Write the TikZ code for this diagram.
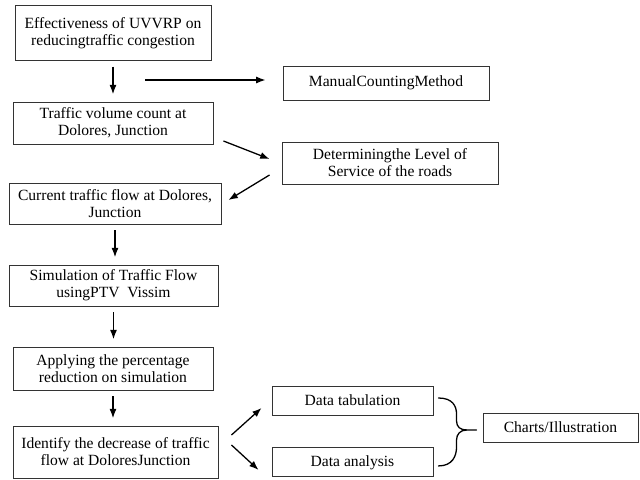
\documentclass[tikz,border=0pt]{standalone}
\usepackage{fontspec}
\setmainfont{Liberation Serif}
\usetikzlibrary{positioning,arrows.meta,calc}

\begin{document}
\begin{tikzpicture}[
    x=0.03cm, y=0.03cm,
    >=Latex,
    font=\fontsize{13.3}{14.6}\selectfont,
    stepbox/.style={
        draw=black!80, line width=0.8pt,
        align=center,
        inner sep=2pt,
        text=black
    },
    smallbox/.style={
        stepbox,
        minimum width=4.83cm, minimum height=0.87cm
    },
    flow/.style={
        ->, line width=1.1pt,
        shorten <=0.17cm, shorten >=0.22cm
    },
    curly/.style={
        line width=1.1pt, line cap=round
    }
]

\useasboundingbox (0,0) rectangle (640,-480);

\node[stepbox, minimum width=5.88cm, minimum height=1.65cm] (goal) at (113,-33)
    {Effectiveness of UVVRP on\\reducingtraffic congestion};
\node[stepbox, minimum width=6.18cm, minimum height=1.02cm] (manual) at (386,-83)
    {ManualCountingMethod};
\node[stepbox, minimum width=6.0cm, minimum height=1.26cm] (vol) at (113,-123)
    {Traffic volume count at\\Dolores, Junction};
\node[stepbox, minimum width=6.48cm, minimum height=1.26cm] (los) at (390,-163)
    {Determiningthe Level of\\Service of the roads};
\node[stepbox, minimum width=6.36cm, minimum height=1.23cm] (cur) at (115,-203.5)
    {Current traffic flow at Dolores,\\Junction};
\node[stepbox, minimum width=6.27cm, minimum height=1.23cm] (sim) at (113.5,-285.5)
    {Simulation of Traffic Flow\\usingPTV\ \ Vissim};
\node[stepbox, minimum width=6.0cm, minimum height=1.29cm] (red) at (113,-368.5)
    {Applying the percentage\\reduction on simulation};
\node[stepbox, minimum width=6.15cm, minimum height=1.56cm] (dec) at (115.5,-452)
    {Identify the decrease of traffic\\flow at DoloresJunction};

\node[smallbox] (tab) at (352.5,-400.5) {Data tabulation};
\node[smallbox, below=0.96cm of tab] (ana) {Data analysis};
\node[stepbox, minimum width=4.65cm, minimum height=0.87cm] (charts) at (560.5,-427.5)
    {Charts/Illustration};

\coordinate (split) at (145,-80);
\coordinate (btop) at ($(tab.east)+(5,2.5)$);
\coordinate (bbot) at ($(ana.east)+(5,-3.5)$);
\coordinate (tip) at ($(charts.west)+(-6,-2.5)$);

\draw[flow] (goal.south) -- (goal.south |- vol.north);
\draw[->, line width=1.1pt, shorten >=0.51cm] (split) -- (manual.west |- split);
\draw[->, line width=1.1pt] ($(vol.east)+(10,-18)$) -- ($(los.west)+(-12,4)$);
\draw[->, line width=1.1pt] ($(los.west)+(-12,-12)$) -- ($(cur.east)+(7,3.5)$);
\draw[flow] (cur.south) -- (cur.south |- sim.north);
\draw[flow] (sim.south) -- (sim.south |- red.north);
\draw[flow] (red.south) -- (red.south |- dec.north);
\draw[->, line width=1.1pt] ($(dec.east)+(13,17)$) -- ($(tab.west)+(-10,-7.5)$);
\draw[->, line width=1.1pt] ($(dec.east)+(13,7)$) -- ($(ana.west)+(-13,-7.5)$);

\draw[curly] (btop) .. controls +(14,0) and +(0,8) .. ($(tip)+(-20,16)$)
    -- ($(tip)+(-20,9)$) .. controls +(0,-6) and +(-6,0) .. ($(tip)+(-10,0)$) -- (tip);
\draw[curly] ($(tip)+(-10,0)$) .. controls +(-6,0) and +(0,6) .. ($(tip)+(-20,-10)$)
    -- ($(tip)+(-20,-17)$) .. controls +(0,-9) and +(14,0) .. (bbot);

\end{tikzpicture}
\end{document}
